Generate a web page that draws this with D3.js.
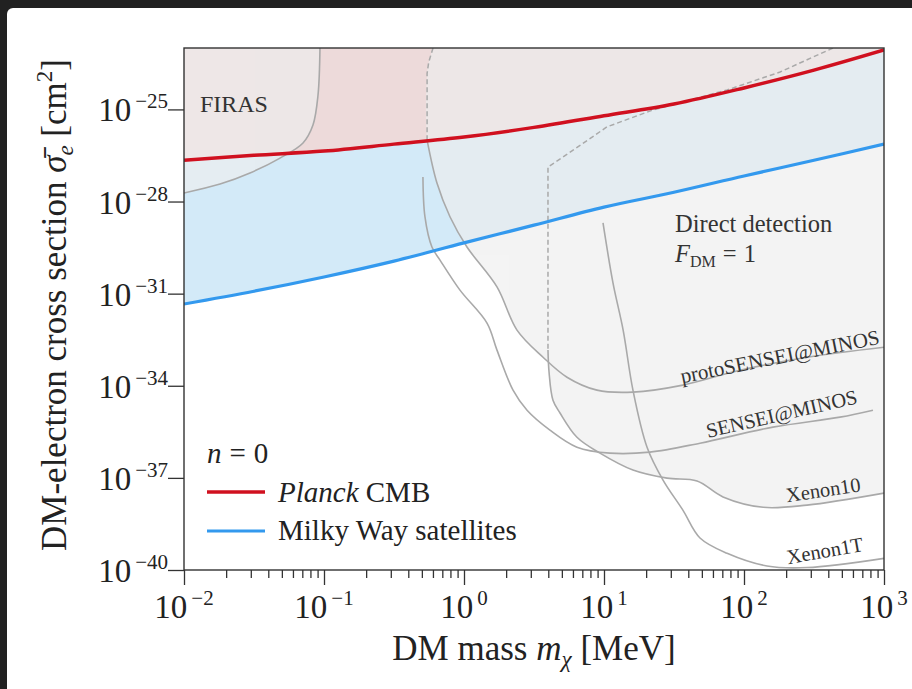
<!DOCTYPE html>
<html>
<head>
<meta charset="utf-8">
<script src="https://cdn.jsdelivr.net/npm/d3@7"></script>
<style>
  body { margin: 0; background: #212121; }
  svg { display: block; }
  text { font-family: "Liberation Serif", "DejaVu Serif", serif; fill: #222; }
</style>
</head>
<body>
<svg id="plot" width="912" height="689"></svg>
<script>
// ---- data (mass in MeV, cross section in cm^2) ----
var gridMass    = [0.01, 0.0316, 0.1, 0.316, 1, 3.16, 10, 31.6, 100, 316, 1000];
var planckSigma = [2.2e-27, 3.2e-27, 4.4e-27, 7.4e-27, 1.26e-26, 2.6e-26, 6.2e-26, 1.5e-25, 5.0e-25, 1.9e-24, 8.6e-24];
var mwSigma     = [4.6e-32, 1.2e-31, 3.5e-31, 1.15e-30, 4.5e-30, 1.7e-29, 6.6e-29, 2.0e-28, 6.8e-28, 2.2e-27, 7.4e-27];

var firasMass  = [0.01, 0.0181, 0.0296, 0.0485, 0.0708, 0.0834, 0.0906, 0.0936];
var firasSigma = [1.9e-28, 3.7e-28, 8.5e-28, 2.6e-27, 8.1e-27, 3.1e-26, 2.9e-25, 1e-23];

// protoSENSEI@MINOS : dashed upper part, then solid
var protoDashMass  = [0.601, 0.56, 0.545, 0.545];
var protoDashSigma = [1e-23, 3.5e-24, 1.5e-24, 1.0e-26];
var protoMass  = [0.545, 0.641, 0.794, 1.05, 1.72, 2.39, 3.67, 5.44, 8.9, 16.1, 36.6, 93.6, 282, 1000];
var protoSigma = [1.0e-26, 4.0e-28, 3.2e-29, 3.3e-30, 1.66e-31, 6.5e-33, 8.5e-34, 1.9e-34, 7.2e-35, 6.2e-35, 1.05e-34, 3.2e-34, 8.5e-34, 1.8e-33];

var senseiMass  = [0.509, 0.526, 0.590, 0.674, 0.936, 1.46, 1.72, 2.24, 2.82, 4.11, 6.41, 11.0, 21.3, 48.5, 161, 485, 834];
var senseiSigma = [6.3e-28, 3.2e-29, 3.3e-30, 1.24e-30, 1.3e-31, 1.1e-32, 1.45e-33, 7.2e-35, 1.6e-35, 3.6e-36, 1.0e-36, 6.4e-37, 6.9e-37, 1.35e-36, 4.5e-36, 9.5e-36, 1.6e-35];

// Xenon10 : dashed upper part, then solid
var xe10DashMass  = [432, 181, 75.7, 22.4, 10.5, 5.09, 3.98, 3.98];
var xe10DashSigma = [1e-23, 1.65e-24, 4.3e-25, 9.6e-26, 2.7e-26, 2.8e-27, 1.33e-27, 1.45e-33];
var xe10Mass  = [3.98, 4.05, 4.32, 4.85, 6.41, 9.36, 16.1, 28.2, 46.2, 70.8, 137, 282, 1000];
var xe10Sigma = [1.45e-33, 2.8e-34, 3.4e-35, 1.3e-35, 2.1e-36, 6.4e-37, 1.8e-37, 9.8e-38, 7.9e-38, 2.4e-38, 1.1e-38, 1.3e-38, 3.2e-38];

var xe1tMass  = [9.84, 11.6, 13.7, 16.1, 20.3, 26.4, 36.6, 48.5, 75.7, 146, 282, 1000];
var xe1tSigma = [2.0e-29, 2.2e-31, 6.5e-33, 7.2e-35, 1.0e-36, 8.5e-38, 8.9e-39, 1.1e-39, 3.5e-40, 1.35e-40, 1.2e-40, 2.4e-40];

var xMajor = [1e-2, 1e-1, 1e0, 1e1, 1e2, 1e3];
var xExp   = ["\u22122", "\u22121", "0", "1", "2", "3"];
var yMajor = [1e-40, 1e-37, 1e-34, 1e-31, 1e-28, 1e-25];
var yExp   = ["\u221240", "\u221237", "\u221234", "\u221231", "\u221228", "\u221225"];

// curve labels: [text, mass, sigma, angle, font size]
var curveLabels = [
  ["protoSENSEI@MINOS", 36, 1.2e-34, -11.3, 21],
  ["SENSEI@MINOS", 55.3, 2.0e-36, -13, 20.5],
  ["Xenon10", 203, 1.6e-38, -8.5, 20.5],
  ["Xenon1T", 206, 1.55e-40, -10, 20.5]
];

// ---- setup ----
var svg = d3.select("#plot");
var pL = 184, pR = 884, pT = 48, pB = 570;

svg.append("rect").attr("x", 7).attr("y", 8).attr("width", 912).attr("height", 689)
  .attr("rx", 6).attr("fill", "#ffffff");

var x = d3.scaleLog().domain([1e-2, 1e3]).range([pL, pR]);
var y = d3.scaleLog().domain([1e-40, 1e-23]).range([pB, pT]);

var zip = function(ms, ss){ return ms.map(function(m, i){ return [m, ss[i]]; }); };
var curve = d3.curveCatmullRom.alpha(0.5);
var line = d3.line().x(function(d){ return x(d[0]); }).y(function(d){ return y(d[1]); }).curve(curve);
var straight = d3.line().x(function(d){ return x(d[0]); }).y(function(d){ return y(d[1]); });

svg.append("clipPath").attr("id", "clip").append("rect")
  .attr("x", pL).attr("y", pT).attr("width", pR - pL).attr("height", pB - pT);
var plot = svg.append("g").attr("clip-path", "url(#clip)");

var grid = gridMass.map(function(m, i){ return [m, planckSigma[i], mwSigma[i]]; });

// Planck excluded (above red)
plot.append("path").datum(grid)
  .attr("d", d3.area().x(function(d){ return x(d[0]); }).y0(y(1e-23)).y1(function(d){ return y(d[1]); }).curve(curve))
  .attr("fill", "#eddada");

// Milky Way excluded (between blue and red)
plot.append("path").datum(grid)
  .attr("d", d3.area().x(function(d){ return x(d[0]); }).y0(function(d){ return y(d[1]); }).y1(function(d){ return y(d[2]); }).curve(curve))
  .attr("fill", "#d3eaf8");

// FIRAS + direct detection shading
var shade = plot.append("g").attr("opacity", 0.66);
var firasPts = zip(firasMass, firasSigma);
shade.append("path")
  .attr("d", line(firasPts) + "L" + x(1e-2) + "," + y(1e-23) + "Z")
  .attr("fill", "#eeeeee");
var protoAll = zip(protoDashMass, protoDashSigma).concat(zip(protoMass, protoSigma).slice(1));
shade.append("path")
  .attr("d", line(protoAll) + "L" + x(1e3) + "," + y(1e-23) + "Z")
  .attr("fill", "#eeeeee");
var xe10All = zip(xe10DashMass, xe10DashSigma).concat(zip(xe10Mass, xe10Sigma).slice(1));
shade.append("path")
  .attr("d", straight(xe10All.slice(0, 7)) + line(xe10All.slice(6)).replace(/^M/, "L") + "L" + x(1e3) + "," + y(1e-23) + "Z")
  .attr("fill", "#eeeeee");

// gray limit curves
var gray = "#a9a9a9";
[firasPts, zip(protoMass, protoSigma), zip(senseiMass, senseiSigma), zip(xe10Mass, xe10Sigma), zip(xe1tMass, xe1tSigma)]
  .forEach(function(p){
    plot.append("path").attr("d", line(p)).attr("fill", "none")
      .attr("stroke", gray).attr("stroke-width", 1.6);
  });
[zip(protoDashMass, protoDashSigma), zip(xe10DashMass, xe10DashSigma)].forEach(function(p){
  plot.append("path").attr("d", straight(p)).attr("fill", "none")
    .attr("stroke", gray).attr("stroke-width", 1.5).attr("stroke-dasharray", "5,3");
});

// Planck and Milky Way lines
plot.append("path").attr("d", line(zip(gridMass, planckSigma))).attr("fill", "none")
  .attr("stroke", "#d0101f").attr("stroke-width", 3.5);
plot.append("path").attr("d", line(zip(gridMass, mwSigma))).attr("fill", "none")
  .attr("stroke", "#3399ee").attr("stroke-width", 3.2);

// ---- axes ----
var ax = svg.append("g").attr("transform", "translate(0," + pB + ")")
  .call(d3.axisBottom(x).tickValues(xMajor).tickSize(15).tickFormat(""));
var minors = [];
for (var e = -2; e < 3; e++) for (var k = 2; k < 10; k++) minors.push(k * Math.pow(10, e));
var axm = svg.append("g").attr("transform", "translate(0," + pB + ")")
  .call(d3.axisBottom(x).tickValues(minors).tickSize(8).tickFormat(""));
var ay = svg.append("g").attr("transform", "translate(" + pL + ",0)")
  .call(d3.axisLeft(y).tickValues(yMajor).tickSize(16).tickFormat(""));
[ax, axm, ay].forEach(function(g){
  g.select(".domain").remove();
  g.selectAll("line").attr("stroke", "#333").attr("stroke-width", 1.3);
});

svg.append("rect").attr("x", pL).attr("y", pT).attr("width", pR - pL).attr("height", pB - pT)
  .attr("fill", "none").attr("stroke", "#333").attr("stroke-width", 1.4);

// tick labels
xMajor.forEach(function(v, i){
  var t = svg.append("text").attr("x", x(v)).attr("y", 618).attr("text-anchor", "middle").style("font-size", "33px");
  t.append("tspan").text("10");
  t.append("tspan").attr("dx", 4).attr("dy", -13).style("font-size", "21px").text(xExp[i]);
});
yMajor.forEach(function(v, i){
  var t = svg.append("text").attr("x", 168).attr("y", y(v) + 12).attr("text-anchor", "end").style("font-size", "33px");
  t.append("tspan").text("10");
  t.append("tspan").attr("dx", 4).attr("dy", -13).style("font-size", "21px").text(yExp[i]);
});

// axis titles
var xt = svg.append("text").attr("x", (pL + pR) / 2).attr("y", 660).attr("text-anchor", "middle").style("font-size", "35px");
xt.append("tspan").text("DM mass ");
xt.append("tspan").style("font-style", "italic").text("m");
xt.append("tspan").attr("dy", 7).style("font-style", "italic").style("font-size", "23px").text("\u03c7");
xt.append("tspan").attr("dy", -7).text(" [MeV]");

var yt = svg.append("text").attr("transform", "translate(66," + ((pT + pB) / 2 - 4) + ") rotate(-90)")
  .attr("text-anchor", "middle").style("font-size", "35px");
yt.append("tspan").text("DM-electron cross section ");
yt.append("tspan").style("font-style", "italic").text("\u03c3\u0304");
yt.append("tspan").attr("dy", 7).style("font-style", "italic").style("font-size", "23px").text("e");
yt.append("tspan").attr("dy", -7).text(" [cm");
yt.append("tspan").attr("dy", -14).style("font-size", "23px").text("2");
yt.append("tspan").attr("dy", 14).text("]");

// annotations
svg.append("text").attr("x", x(0.013)).attr("y", y(8.3e-26)).style("font-size", "24px").style("fill", "#333").text("FIRAS");
svg.append("text").attr("x", x(32.2)).attr("y", y(1.0e-29)).style("font-size", "24.5px").style("fill", "#333").text("Direct detection");
var fdm = svg.append("text").attr("x", x(32.2)).attr("y", y(1.07e-30)).style("font-size", "24.5px").style("fill", "#333");
fdm.append("tspan").style("font-style", "italic").text("F");
fdm.append("tspan").attr("dy", 5).style("font-size", "16px").text("DM");
fdm.append("tspan").attr("dy", -5).attr("dx", 7).text("=");
fdm.append("tspan").attr("dx", 7).text("1");

curveLabels.forEach(function(c){
  svg.append("text")
    .attr("transform", "translate(" + x(c[1]) + "," + y(c[2]) + ") rotate(" + c[3] + ")")
    .style("font-size", c[4] + "px").style("fill", "#333").text(c[0]);
});

// legend
var lg = svg.append("g");
var n0 = lg.append("text").attr("x", 207).attr("y", 463).style("font-size", "29px");
n0.append("tspan").style("font-style", "italic").text("n");
n0.append("tspan").attr("dx", 8).text("=");
n0.append("tspan").attr("dx", 8).text("0");
lg.append("line").attr("x1", 207).attr("x2", 265).attr("y1", 492).attr("y2", 492)
  .attr("stroke", "#d0101f").attr("stroke-width", 3.5);
lg.append("line").attr("x1", 207).attr("x2", 265).attr("y1", 531).attr("y2", 531)
  .attr("stroke", "#3399ee").attr("stroke-width", 3.2);
var pl = lg.append("text").attr("x", 278).attr("y", 502).style("font-size", "29px");
pl.append("tspan").style("font-style", "italic").text("Planck");
pl.append("tspan").text(" CMB");
lg.append("text").attr("x", 278).attr("y", 540).style("font-size", "29px").text("Milky Way satellites");
</script>
</body>
</html>
